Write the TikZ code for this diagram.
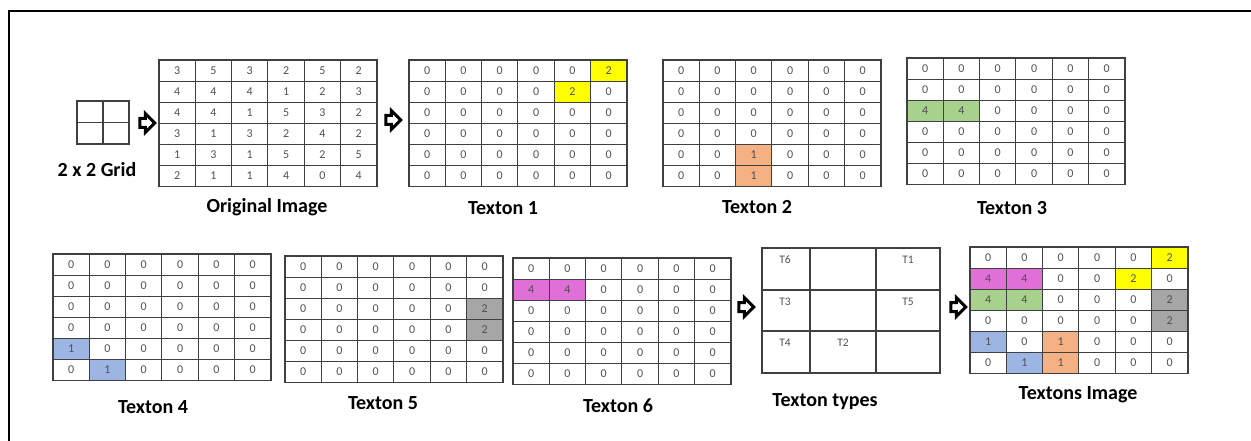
\documentclass[tikz,border=0pt]{standalone}
\usepackage{fontspec}
\setmainfont{Carlito}
\usetikzlibrary{shapes.arrows,backgrounds}

% 6 x 6 grid of numbered cells: name, left, top, rows
\newcommand{\texgrid}[4]{%
  \foreach \rowvals [count=\r] in {#4} {
    \foreach \val [count=\c] in \rowvals {
      \node[cellbox] (#1-\r-\c) at ({#2+(\c-0.5)*\cellW},{#3+(\r-0.5)*\cellH}) {\val};
    }
  }
  \draw[gridframe] (#1-1-1.north west) rectangle (#1-6-6.south east);
}
% Colour one cell behind its number
\newcommand{\shadecell}[2]{\fill[#2] (#1.north west) rectangle (#1.south east);}

\tikzset{
  cellbox/.style={rectangle, draw=gridLine, line width=0.9pt, inner sep=0pt,
    minimum width=\cellW pt, minimum height=\cellH pt, text=numText,
    font=\fontsize{12}{13}\selectfont},
  gridframe/.style={draw=gridLine, line width=1.4pt},
  caption/.style={inner sep=0pt, font=\fontsize{20}{22}\selectfont\bfseries},
  typelabel/.style={inner sep=0pt, text=numText, font=\fontsize{11.5}{12}\selectfont},
  flowarrow/.style={single arrow, draw=black, fill=white, line width=3pt,
    minimum height=15pt, inner sep=3pt, single arrow head extend=5pt},
}

\begin{document}
\begin{tikzpicture}[x=1pt, y=-1pt]
    % Define colours
    \definecolor{gridLine}{HTML}{404040}
    \definecolor{numText}{HTML}{505050}
    \definecolor{texYellow}{HTML}{FFFF00}
    \definecolor{texOrange}{HTML}{F4B183}
    \definecolor{texGreen}{HTML}{A9D18E}
    \definecolor{texBlue}{HTML}{9DB5E2}
    \definecolor{texGrey}{HTML}{A6A6A6}
    \definecolor{texPink}{HTML}{E070D8}

    % Define cell size
    \def\cellW{36.3}
    \def\cellH{21}

    \useasboundingbox (0,0) rectangle (1251,441);

    % Outer frame
    \draw[line width=2pt] (9,450) -- (9,11) -- (1260,11);

    % Small 2 x 2 grid
    \draw[gridLine, line width=1.3pt] (77,101) rectangle (129,144);
    \draw[gridLine, line width=1.1pt] (103,101) -- (103,144) (77,122.5) -- (129,122.5);
    \node[caption] (gridcap) at (97,170) {2 x 2 Grid};

    % Original image
    \texgrid{orig}{159}{60}{{3,5,3,2,5,2},{4,4,4,1,2,3},{4,4,1,5,3,2},
      {3,1,3,2,4,2},{1,3,1,5,2,5},{2,1,1,4,0,4}}
    \node[caption] (origcap) at (267,207) {Original Image};

    % Texton 1
    \texgrid{tone}{409}{60}{{0,0,0,0,0,2},{0,0,0,0,2,0},{0,0,0,0,0,0},
      {0,0,0,0,0,0},{0,0,0,0,0,0},{0,0,0,0,0,0}}
    \node[caption] (tonecap) at (503,208) {Texton 1};

    % Texton 2
    \texgrid{ttwo}{663}{60}{{0,0,0,0,0,0},{0,0,0,0,0,0},{0,0,0,0,0,0},
      {0,0,0,0,0,0},{0,0,1,0,0,0},{0,0,1,0,0,0}}
    \node[caption] (ttwocap) at (757,207) {Texton 2};

    % Texton 3
    \texgrid{tthree}{907}{58}{{0,0,0,0,0,0},{0,0,0,0,0,0},{4,4,0,0,0,0},
      {0,0,0,0,0,0},{0,0,0,0,0,0},{0,0,0,0,0,0}}
    \node[caption] (tthreecap) at (1012,208) {Texton 3};

    % Texton 4
    \texgrid{tfour}{53}{254}{{0,0,0,0,0,0},{0,0,0,0,0,0},{0,0,0,0,0,0},
      {0,0,0,0,0,0},{1,0,0,0,0,0},{0,1,0,0,0,0}}
    \node[caption] (tfourcap) at (153,407) {Texton 4};

    % Texton 5
    \texgrid{tfive}{285}{256}{{0,0,0,0,0,0},{0,0,0,0,0,0},{0,0,0,0,0,2},
      {0,0,0,0,0,2},{0,0,0,0,0,0},{0,0,0,0,0,0}}
    \node[caption] (tfivecap) at (383,403) {Texton 5};

    % Texton 6
    \texgrid{tsix}{513}{258}{{0,0,0,0,0,0},{4,4,0,0,0,0},{0,0,0,0,0,0},
      {0,0,0,0,0,0},{0,0,0,0,0,0},{0,0,0,0,0,0}}
    \node[caption] (tsixcap) at (618,406) {Texton 6};

    % Texton types
    \draw[gridLine, line width=1.3pt] (762,248) rectangle (940,373);
    \draw[gridLine, line width=1.1pt] (810,248) -- (810,373) (876,248) -- (876,373)
      (762,290) -- (940,290) (762,331) -- (940,331);
    \node[typelabel] (typesix) at (785,260) {T6};
    \node[typelabel] (typeone) at (908,260) {T1};
    \node[typelabel] (typethree) at (785,302) {T3};
    \node[typelabel] (typefive) at (908,302) {T5};
    \node[typelabel] (typefour) at (785,343) {T4};
    \node[typelabel] (typetwo) at (843,343) {T2};
    \node[caption] (typescap) at (825,402) {Texton types};

    % Textons image
    \texgrid{timg}{970}{247}{{0,0,0,0,0,2},{4,4,0,0,2,0},{4,4,0,0,0,2},
      {0,0,0,0,0,2},{1,0,1,0,0,0},{0,1,1,0,0,0}}
    \node[caption] (timgcap) at (1078,395) {Textons Image};

    % Shade the texton cells
    \begin{scope}[on background layer]
        \shadecell{tone-1-6}{texYellow}
        \shadecell{tone-2-5}{texYellow}
        \shadecell{ttwo-5-3}{texOrange}
        \shadecell{ttwo-6-3}{texOrange}
        \shadecell{tthree-3-1}{texGreen}
        \shadecell{tthree-3-2}{texGreen}
        \shadecell{tfour-5-1}{texBlue}
        \shadecell{tfour-6-2}{texBlue}
        \shadecell{tfive-3-6}{texGrey}
        \shadecell{tfive-4-6}{texGrey}
        \shadecell{tsix-2-1}{texPink}
        \shadecell{tsix-2-2}{texPink}
        \shadecell{timg-1-6}{texYellow}
        \shadecell{timg-2-5}{texYellow}
        \shadecell{timg-2-1}{texPink}
        \shadecell{timg-2-2}{texPink}
        \shadecell{timg-3-1}{texGreen}
        \shadecell{timg-3-2}{texGreen}
        \shadecell{timg-3-6}{texGrey}
        \shadecell{timg-4-6}{texGrey}
        \shadecell{timg-5-1}{texBlue}
        \shadecell{timg-6-2}{texBlue}
        \shadecell{timg-5-3}{texOrange}
        \shadecell{timg-6-3}{texOrange}
    \end{scope}

    % Flow arrows
    \node[flowarrow] (arrowa) at (145,123) {};
    \node[flowarrow] (arrowb) at (391,120) {};
    \node[flowarrow] (arrowc) at (744,307) {};
    \node[flowarrow] (arrowd) at (956,307) {};

\end{tikzpicture}
\end{document}
